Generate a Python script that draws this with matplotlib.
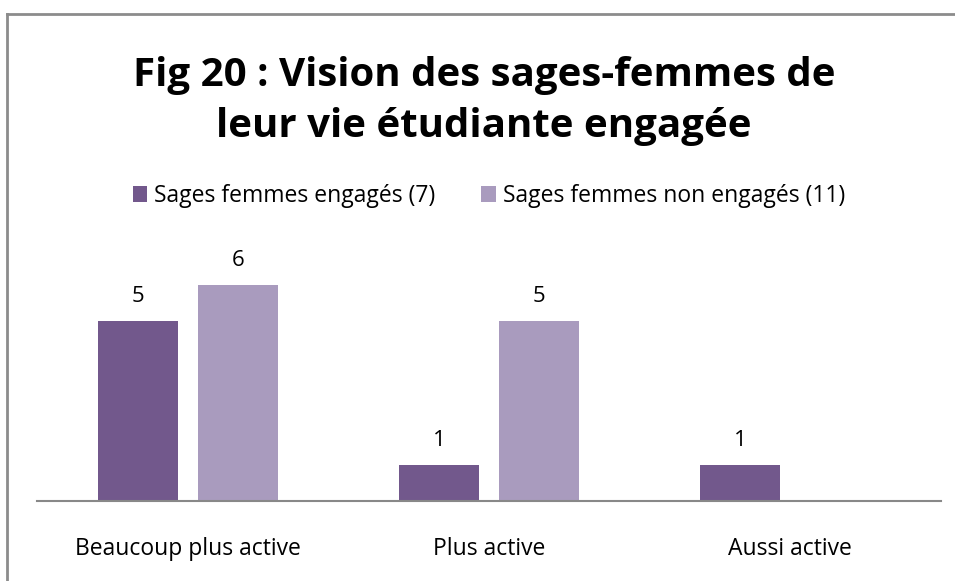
import matplotlib.pyplot as plt
from matplotlib.lines import Line2D
import numpy as np

categories = ["Beaucoup plus active", "Plus active", "Aussi active"]
series_names = ["Sages femmes engagés (7)", "Sages femmes non engagés (11)"]
engages = [5, 1, 1]
non_engages = [6, 5, 0]

dark = "#72588c"
light = "#a99bbe"

plt.rcParams['font.family'] = ['Open Sans', 'DejaVu Sans']

fig = plt.figure(figsize=(9.55, 5.81), dpi=100)
ax = fig.add_axes([37 / 955, 1 - 501 / 581, (941 - 37) / 955, (501 - 249) / 581])

x = np.arange(len(categories))
w = 0.266
b1 = ax.bar(x - 0.166, engages, w, color=dark, label=series_names[0])
b2 = ax.bar(x + 0.166, non_engages, w, color=light, label=series_names[1])

for bars, vals in ((b1, engages), (b2, non_engages)):
    for r, v in zip(bars, vals):
        if v > 0:
            ax.text(r.get_x() + r.get_width() / 2, v + 0.38, str(v),
                    ha="center", va="bottom", fontsize=16)

ax.set_xlim(-0.5, 2.5)
ax.set_ylim(0, 7)
ax.set_yticks([])
ax.set_xticks(x)
ax.set_xticklabels(categories, fontsize=16.5)
ax.tick_params(axis="x", length=0, pad=26)
for s in ["top", "right", "left"]:
    ax.spines[s].set_visible(False)
ax.spines["bottom"].set_color("#888888")
ax.spines["bottom"].set_linewidth(1.5)

fig.text(484 / 955, 1 - 101 / 581, "Fig 20 : Vision des sages-femmes de\nleur vie étudiante engagée",
         ha="center", va="center", fontsize=29, fontweight="bold", linespacing=1.42)

ax.legend(loc="center", bbox_to_anchor=(0.5, (501 - 196) / 252),
          ncol=2, frameon=False, fontsize=16.5, handlelength=0.65, handleheight=0.65,
          handletextpad=0.3, columnspacing=2.0)

# outer chart border (cropped on the right and bottom)
fig.add_artist(Line2D([7 / 955, 7 / 955], [0, 1 - 14 / 581], color="#8c8c8c", lw=2))
fig.add_artist(Line2D([7 / 955, 1], [1 - 14 / 581, 1 - 14 / 581], color="#8c8c8c", lw=2))

fig.savefig("out.png", dpi=100)
